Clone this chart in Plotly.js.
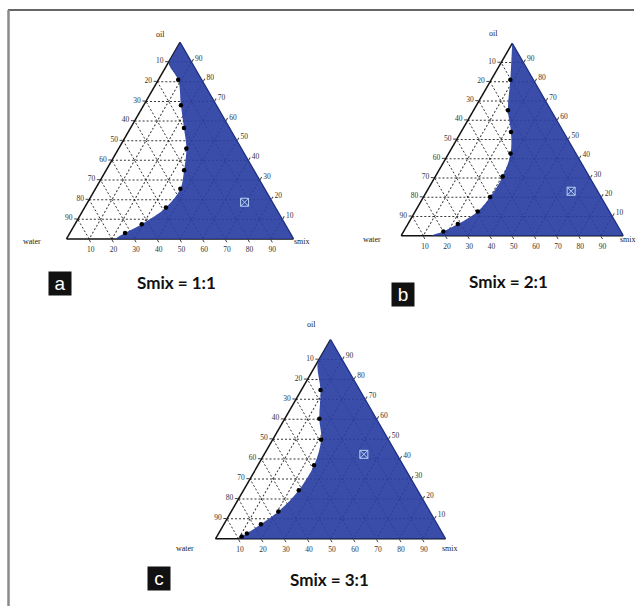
<!DOCTYPE html>
<html>
<head>
<meta charset="utf-8">
<script src="https://cdn.plot.ly/plotly-3.0.1.min.js"></script>
<style>
html, body { margin: 0; padding: 0; background: #fff; }
#chart { width: 642px; height: 614px; }
</style>
</head>
<body>
<div id="chart"></div>
<script>
// tick labels run the other way round the triangle than plotly's default
const tickVals = [10, 20, 30, 40, 50, 60, 70, 80, 90];
const tickText = ['90', '80', '70', '60', '50', '40', '30', '20', '10'];

// boundary of the blue region, % (first/last = where it meets the edges)
// Smix 1:1
const oil11   = [90, 81, 68, 56.5, 46, 35, 25.5, 16, 7.5, 3, 0];
const water11 = [10, 10.3, 15.6, 20, 24.2, 30.7, 37.1, 48.2, 63.1, 72.7, 78];
const smix11  = [0, 8.7, 16.4, 23.5, 29.8, 34.3, 37.4, 35.8, 29.4, 24.3, 22];
// Smix 2:1
const oil21   = [100, 81.1, 65.2, 53.9, 42.7, 30.8, 20.1, 12.6, 6, 2.2, 0];
const water21 = [0, 10.3, 19.3, 23.6, 29.4, 38.9, 49.9, 59.2, 71.5, 79.9, 86];
const smix21  = [0, 8.6, 15.5, 22.5, 27.9, 30.3, 30, 28.2, 22.5, 17.9, 14];
// Smix 3:1
const oil31   = [89, 74.7, 60.3, 49.9, 36.9, 24.4, 13.7, 7.3, 2.7, 1.2, 0];
const water31 = [11, 17, 24.7, 29.1, 38.7, 51.6, 65.8, 76.6, 85, 88, 90];
const smix31  = [0, 8.3, 15, 21, 24.4, 24, 20.5, 16.1, 12.3, 10.8, 10];

// selected formulation in each diagram
const selOil   = [18.7, 23.1, 42.4];
const selWater = [12.2, 11.9, 14.3];
const selSmix  = [69.1, 65, 43.3];

const panelLetters = ['a', 'b', 'c'];
const panelTitles = ['Smix = 1:1', 'Smix = 2:1', 'Smix = 3:1'];

const W = 642, H = 614;
const BLUE = 'rgba(40,62,162,0.92)';

const boundaries = [
    [oil11, water11, smix11],
    [oil21, water21, smix21],
    [oil31, water31, smix31]
];
const subplots = ['ternary', 'ternary2', 'ternary3'];

const traces = [];
boundaries.forEach(([oil, water, smix], i) => {
    // blue region: apex -> boundary -> smix corner, closed back along the right edge
    const a = [], b = [], c = [];
    if (oil[0] !== 100) { a.push(100); b.push(0); c.push(0); }
    a.push(...oil, 0); b.push(...water, 0); c.push(...smix, 100);
    traces.push({
        type: 'scatterternary', subplot: subplots[i],
        a: a, b: b, c: c,
        mode: 'lines', fill: 'toself', fillcolor: BLUE,
        line: { width: 0, shape: 'spline', simplify: false, color: BLUE },
        hoverinfo: 'skip', showlegend: false
    });
    traces.push({
        type: 'scatterternary', subplot: subplots[i],
        a: oil.slice(1, -1), b: water.slice(1, -1), c: smix.slice(1, -1),
        mode: 'markers',
        marker: { size: 4.5, color: '#000' },
        showlegend: false
    });
    traces.push({
        type: 'scatterternary', subplot: subplots[i],
        a: [selOil[i]], b: [selWater[i]], c: [selSmix[i]],
        mode: 'markers',
        marker: { size: 8, symbol: 'square-x-open', color: '#b9d3f2', line: { width: 1 } },
        showlegend: false
    });
});

const axisBase = {
    tickmode: 'array', tickvals: tickVals, ticktext: tickText,
    ticks: 'outside', ticklen: 3, tickwidth: 1, tickcolor: '#444',
    tickfont: { family: 'Liberation Serif', size: 7.5, color: '#333' },
    showgrid: true, gridcolor: 'rgba(20,20,20,0.85)', gridwidth: 1, griddash: '2px,2px',
    showline: true, linewidth: 1.5, linecolor: '#111',
    layer: 'below traces',
    title: { text: '' }
};

function tern(cx, cy, w) {
    const h = w * Math.sqrt(3) / 2 + 4;
    return {
        sum: 100,
        domain: {
            x: [(cx - w / 2) / W, (cx + w / 2) / W],
            y: [1 - (cy + h / 2) / H, 1 - (cy - h / 2) / H]
        },
        bgcolor: '#fff',
        aaxis: { ...axisBase },
        baxis: { ...axisBase },
        caxis: { ...axisBase, linecolor: '#1b2a7a' }
    };
}

const px = x => x / W;
const py = y => 1 - y / H;

function label(text, x, y) {
    return {
        text: text, x: px(x), y: py(y), xref: 'paper', yref: 'paper',
        showarrow: false, xanchor: 'center', yanchor: 'middle',
        font: { family: 'Liberation Serif', size: 8, color: '#222' }
    };
}

// vertex labels (pixel positions)
const vertexPos = [
    [[160, 34], [31.7, 241.7], [301.7, 241.7]],
    [[493.3, 33.3], [371.7, 240], [628.3, 240]],
    [[311.7, 324], [185, 548.3], [450, 548.3]]
];
const letterPos = [[59.5, 283.3], [402.5, 294.7], [159, 578.5]];
const titlePos = [[176.7, 282.3], [508.3, 281], [330, 579]];

const annotations = [];
vertexPos.forEach(p => {
    annotations.push(label('oil', p[0][0], p[0][1]));
    annotations.push(label('water', p[1][0], p[1][1]));
    annotations.push(label('smix', p[2][0], p[2][1]));
});
panelLetters.forEach((l, i) => {
    annotations.push({
        text: l, x: px(letterPos[i][0]), y: py(letterPos[i][1]),
        xref: 'paper', yref: 'paper', showarrow: false,
        xanchor: 'center', yanchor: 'middle',
        width: 22, height: 23, bgcolor: '#111', borderpad: 0,
        font: { family: 'Liberation Sans', size: 19, color: '#fff' }
    });
    annotations.push({
        text: '<b>' + panelTitles[i] + '</b>', x: px(titlePos[i][0]), y: py(titlePos[i][1]),
        xref: 'paper', yref: 'paper', showarrow: false,
        xanchor: 'center', yanchor: 'middle',
        font: { family: 'Lato', size: 17, color: '#111' }
    });
});

const layout = {
    width: W, height: H,
    margin: { l: 0, r: 0, t: 0, b: 0 },
    paper_bgcolor: '#fff',
    showlegend: false,
    ternary: tern(180, 140.7, 227),
    ternary2: tern(512.2, 139.5, 222),
    ternary3: tern(330.5, 439.2, 230),
    annotations: annotations,
    shapes: [
        { type: 'line', xref: 'paper', yref: 'paper', x0: px(8), x1: px(634), y0: py(10), y1: py(10),
          line: { color: '#333', width: 1.5 } },
        { type: 'line', xref: 'paper', yref: 'paper', x0: px(8.5), x1: px(8.5), y0: py(10), y1: py(606),
          line: { color: '#8a8a8a', width: 2.5 } }
    ]
};

Plotly.newPlot('chart', traces, layout, { displayModeBar: false, staticPlot: true });
</script>
</body>
</html>
